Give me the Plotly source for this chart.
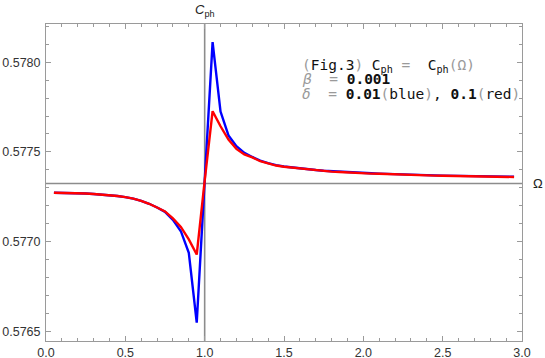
import plotly.graph_objects as go

# Omega sample points
omega = [0.05, 0.10, 0.15, 0.20, 0.25, 0.30, 0.35, 0.40, 0.45, 0.50,
         0.55, 0.60, 0.65, 0.70, 0.75, 0.80, 0.85, 0.90, 0.95, 1.00,
         1.05, 1.10, 1.15, 1.20, 1.25, 1.30, 1.35, 1.40, 1.45, 1.50,
         1.55, 1.60, 1.65, 1.70, 1.75, 1.80, 1.85, 1.90, 1.95, 2.00,
         2.05, 2.10, 2.15, 2.20, 2.25, 2.30, 2.35, 2.40, 2.45, 2.50,
         2.55, 2.60, 2.65, 2.70, 2.75, 2.80, 2.85, 2.90, 2.95]

# delta = 0.1 (red)
c_red = [0.577272, 0.577272, 0.577271, 0.577269, 0.577268, 0.577265, 0.577262, 0.577258, 0.577254, 0.577248,
         0.577240, 0.577227, 0.577211, 0.577190, 0.577168, 0.577129, 0.577082, 0.577012, 0.576928, 0.577338,
         0.577727, 0.577643, 0.577569, 0.577517, 0.577486, 0.577469, 0.577448, 0.577436, 0.577424, 0.577417,
         0.577412, 0.577408, 0.577402, 0.577398, 0.577394, 0.577390, 0.577388, 0.577385, 0.577383, 0.577381,
         0.577379, 0.577378, 0.577376, 0.577375, 0.577373, 0.577372, 0.577371, 0.577369, 0.577368, 0.577367,
         0.577366, 0.577365, 0.577364, 0.577364, 0.577363, 0.577362, 0.577361, 0.577361, 0.577360]

# delta = 0.01 (blue)
c_blue = [0.577272, 0.577272, 0.577271, 0.577269, 0.577268, 0.577265, 0.577262, 0.577258, 0.577254, 0.577248,
          0.577240, 0.577227, 0.577211, 0.577190, 0.577166, 0.577121, 0.577058, 0.576938, 0.576548, 0.577338,
          0.578112, 0.577725, 0.577592, 0.577532, 0.577495, 0.577472, 0.577451, 0.577438, 0.577426, 0.577419,
          0.577413, 0.577409, 0.577404, 0.577399, 0.577395, 0.577392, 0.577389, 0.577386, 0.577384, 0.577382,
          0.577381, 0.577379, 0.577377, 0.577376, 0.577375, 0.577373, 0.577372, 0.577371, 0.577369, 0.577368,
          0.577367, 0.577367, 0.577366, 0.577365, 0.577364, 0.577363, 0.577363, 0.577362, 0.577362]

x_ticks = [0.0, 0.5, 1.0, 1.5, 2.0, 2.5, 3.0]
x_ticklabels = ["0.0", "0.5", "1.0", "1.5", "2.0", "2.5", "3.0"]
y_ticks = [0.5765, 0.5770, 0.5775, 0.5780]
y_ticklabels = ["0.5765", "0.5770", "0.5775", "0.5780"]

axis_origin_x = 1.0
axis_origin_y = 0.577324

fig = go.Figure()
fig.add_trace(go.Scatter(x=omega, y=c_blue, mode="lines",
                         line=dict(color="#0000ff", width=2.4), showlegend=False))
fig.add_trace(go.Scatter(x=omega, y=c_red, mode="lines",
                         line=dict(color="#ff0000", width=2.4), showlegend=False))

axcol = "#8c8c8c"
fig.add_shape(type="line", xref="x", yref="paper", x0=axis_origin_x, x1=axis_origin_x,
              y0=0, y1=1, line=dict(color=axcol, width=1.6), layer="below")
fig.add_shape(type="line", xref="paper", yref="y", x0=0, x1=1,
              y0=axis_origin_y, y1=axis_origin_y, line=dict(color=axcol, width=1.6), layer="below")

tickfont = dict(family="Liberation Sans, Arial, sans-serif", size=12.5, color="#333333")
framecol = "#9a9a9a"
fig.update_xaxes(range=[0, 3], tickvals=x_ticks, ticktext=x_ticklabels, automargin=False,
                 showgrid=False, zeroline=False, showline=True, linecolor=framecol, linewidth=1,
                 mirror="allticks", ticks="inside", ticklen=5, tickcolor=framecol, tickwidth=1,
                 minor=dict(dtick=0.1, ticks="inside", ticklen=3, tickcolor=framecol, tickwidth=1,
                            showgrid=False),
                 tickfont=tickfont)
fig.update_yaxes(range=[0.576446, 0.578213], tickvals=y_ticks, ticktext=y_ticklabels, automargin=False,
                 showgrid=False, zeroline=False, showline=True, linecolor=framecol, linewidth=1,
                 mirror="allticks", ticks="inside", ticklen=5, tickcolor=framecol, tickwidth=1,
                 minor=dict(dtick=0.0001, ticks="inside", ticklen=3, tickcolor=framecol, tickwidth=1,
                            showgrid=False),
                 tickfont=tickfont, ticklabelstandoff=2)

mono = "DejaVu Sans Mono, monospace"
g = "#9a9a9a"
lines = [
    f"<span style='color:{g}'>(</span>Fig.3<span style='color:{g}'>)</span> C<sub>ph</sub> <span style='color:{g}'>=</span>  C<sub>ph</sub><span style='color:{g}'>(Ω)</span>",
    f"<span style='color:{g}'><i>β</i>  =</span> <b>0.001</b>",
    f"<span style='color:{g}'><i>δ</i>  =</span> <b>0.01</b><span style='color:{g}'>(</span>blue<span style='color:{g}'>)</span>, <b>0.1</b><span style='color:{g}'>(</span>red<span style='color:{g}'>)</span>",
]
ytop = [55, 69, 83.5]
for txt, yp in zip(lines, ytop):
    fig.add_annotation(xref="paper", yref="paper", x=(300 - 46) / 476, y=(341 - yp) / 317,
                       text=txt, showarrow=False, xanchor="left", yanchor="top",
                       font=dict(family=mono, size=14.5, color="#111111"))

labfont = dict(family="Liberation Sans, Arial, sans-serif", size=13, color="#222222")
fig.add_annotation(xref="x", yref="paper", x=axis_origin_x, y=1.0, yshift=3,
                   text="<i>C</i><sub>ph</sub>", showarrow=False, xanchor="center", yanchor="bottom",
                   font=labfont)
fig.add_annotation(xref="paper", yref="y", x=1.0, y=axis_origin_y, xshift=9,
                   text="Ω", showarrow=False, xanchor="left", yanchor="middle",
                   font=labfont)

fig.update_layout(width=545, height=358, margin=dict(l=46, r=23, t=24, b=17),
                  plot_bgcolor="white", paper_bgcolor="white")

fig.write_html("out.html", config={"displayModeBar": False},
               post_script="document.body.style.margin='0';document.body.style.overflow='hidden';")
